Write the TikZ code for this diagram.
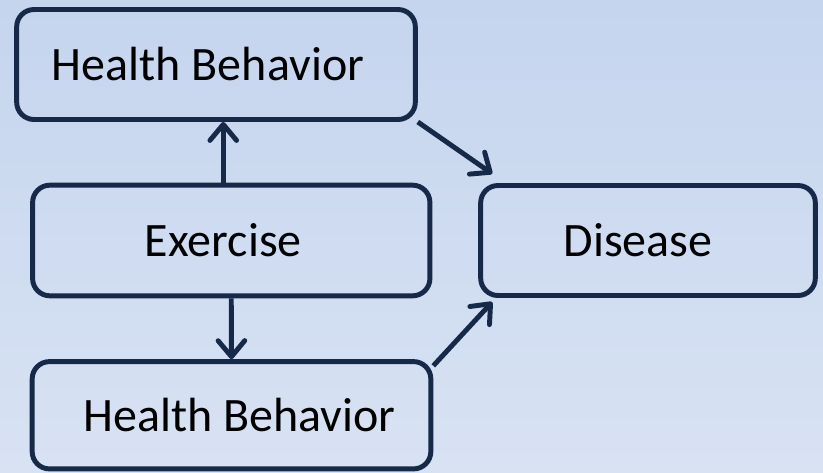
\documentclass[tikz,border=0pt]{standalone}
\usepackage{fontspec}
\setmainfont{Carlito}
\usetikzlibrary{arrows.meta}
\definecolor{navy}{RGB}{22,41,72}
\definecolor{bgtop}{RGB}{197,213,238}
\definecolor{bgbot}{RGB}{216,226,243}

\begin{document}
\begin{tikzpicture}[x=0.75pt,y=-0.75pt,
        box/.style={draw=navy,line width=3.7pt,rounded corners=13pt,
            minimum width=299pt,minimum height=82.5pt,inner sep=0pt,
            font=\fontsize{36}{43}\selectfont},
        link/.style={draw=navy,line width=3.7pt,
            -{Straight Barb[length=12pt,width=20pt,line cap=round,line join=round]}}]
        \shade[top color=bgtop,bottom color=bgbot] (0,0) rectangle (823,472);
        \useasboundingbox (0,0) rectangle (823,472);

        \node[box] (hbtop) at (216,64.5) {Health Behavior\kern12pt};
        \node[box,minimum width=298pt,minimum height=83pt] (ex) at (231.25,240.5) {Exercise\kern12pt};
        \node[box,minimum height=80.5pt] (hbbot) at (231.5,415.25) {\kern12pt Health Behavior};
        \node[box,minimum width=251pt] (dis) at (648,240.5) {Disease\kern15pt};

        \draw[link] ([xshift=-6pt]ex.north) -- ([xshift=-6pt]ex.north |- hbtop.south);
        \draw[link] (ex.south) -- (hbbot.north);
        \draw[link] (hbtop.south east) -- ([shift={(10.5pt,7pt)}]dis.north west);
        \draw[link] ([yshift=-5pt]hbbot.north east) -- ([shift={(10.5pt,-3pt)}]dis.south west);
    \end{tikzpicture}
\end{document}
